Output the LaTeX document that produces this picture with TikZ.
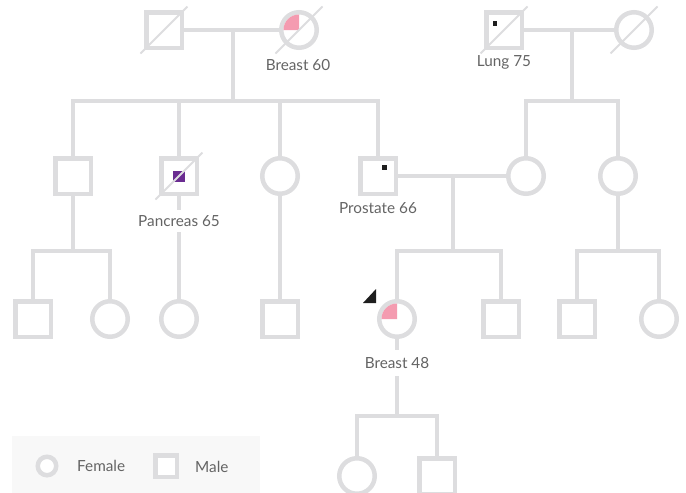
\documentclass[tikz,border=0pt]{standalone}
\usepackage{fontspec}
\setmainfont{Lato}
\definecolor{linec}{RGB}{221,221,223}
\definecolor{textc}{RGB}{100,100,100}
\definecolor{pinkc}{RGB}{244,155,176}
\definecolor{purplec}{RGB}{106,44,145}
\definecolor{markc}{RGB}{30,30,30}
\definecolor{legbg}{RGB}{248,248,248}
\tikzset{
  kin/.style={draw=linec, line width=4.5pt, fill=white, inner sep=0pt},
  male/.style={kin, rectangle, minimum size=35.5pt},
  female/.style={kin, circle, minimum size=35.5pt},
  link/.style={draw=linec, line width=4.5pt},
  dead/.style={draw=linec, line width=1.8pt},
  lbl/.style={text=textc, font=\fontsize{15.3}{17}\selectfont, inner sep=0pt},
  gaplbl/.style={lbl, fill=white, inner xsep=1pt},
}
\begin{document}
\begin{tikzpicture}[x=1pt, y=-1pt]
\useasboundingbox (0,0) rectangle (686,493);

% generation I
\node[male]   (g1a) at (164,30) {};
\node[female] (g1b) at (299,30) {};
\node[male]   (g1c) at (504,30) {};
\node[female] (g1d) at (634,30) {};

% generation II
\node[male]   (g2a) at (73,176) {};
\node[male]   (g2b) at (179,176) {};
\node[female] (g2c) at (280,176) {};
\node[male]   (g2d) at (378,176) {};
\node[female] (g2e) at (526,176) {};
\node[female] (g2f) at (618,176) {};

% generation III
\node[male]   (g3a) at (33,319) {};
\node[female] (g3b) at (110,319) {};
\node[female] (g3c) at (179,319) {};
\node[male]   (g3d) at (280,319) {};
\node[female] (g3e) at (397,319) {};
\node[male]   (g3f) at (501,319) {};
\node[male]   (g3g) at (577,319) {};
\node[female] (g3h) at (659,319) {};

% generation IV
\node[female] (g4a) at (357,476) {};
\node[male]   (g4b) at (437,476) {};

% junction points
\coordinate (m1) at (233,30);
\coordinate (s1) at (233,101);
\coordinate (m2) at (572,30);
\coordinate (s2) at (572,101);
\coordinate (m3) at (453,176);
\coordinate (s3) at (453,251);
\coordinate (s4) at (73,251);
\coordinate (s5) at (618,251);
\coordinate (s6) at (397,416);

% couples and sibships
\draw[link] (g1a) -- (g1b);
\draw[link] (m1) -- (s1);
\draw[link] (g2a.north) |- (s1) -| (g2d.north);
\draw[link] (g2b.north) -- (g2b.north |- s1);
\draw[link] (g2c.north) -- (g2c.north |- s1);

\draw[link] (g1c) -- (g1d);
\draw[link] (m2) -- (s2);
\draw[link] (g2e.north) |- (s2) -| (g2f.north);

\draw[link] (g2d) -- (g2e);
\draw[link] (m3) -- (s3);
\draw[link] (g3e.north) |- (s3) -| (g3f.north);

\draw[link] (g2a.south) -- (s4);
\draw[link] (g3a.north) |- (s4) -| (g3b.north);
\draw[link] (g2b) -- (g3c);
\draw[link] (g2c) -- (g3d);
\draw[link] (g2f.south) -- (s5);
\draw[link] (g3g.north) |- (s5) -| (g3h.north);

\draw[link] (g3e) -- (s6);
\draw[link] (g4a.north) |- (s6) -| (g4b.north);

% affected quadrants (breast cancer)
\fill[pinkc] (g1b.center) -- ++(-15.5,0) arc[start angle=180, end angle=270, radius=15.5] -- cycle;
\fill[pinkc] (g3e.center) -- ++(-15.5,0) arc[start angle=180, end angle=270, radius=15.5] -- cycle;

% pancreas marker
\fill[purplec] ([shift={(-6,-5.5)}]g2b.center) rectangle ([shift={(6,5.5)}]g2b.center);

% small black markers
\fill[markc] ([shift={(-11.2,-8.7)}]g1c.center) rectangle ++(4.3,4.3);
\fill[markc] ([shift={(4.4,-10.7)}]g2d.center) rectangle ++(4.3,4.3);

% proband arrow
\fill[markc] ([shift={(-34,-16)}]g3e.center) -- ([shift={(-21,-16)}]g3e.center) -- ([shift={(-21,-30)}]g3e.center) -- cycle;

% deceased strokes
\foreach \n in {g1a,g1b,g1c,g1d,g2b}
  \draw[dead] ([shift={(-23.5,23.5)}]\n.center) -- ([shift={(23.5,-23.5)}]\n.center);

% labels
\node[lbl] (l1) at (298,65) {Breast 60};
\node[lbl] (l2) at (504,62) {Lung 75};
\node[gaplbl, minimum height=22pt] (l3) at (179,221) {Pancreas 65};
\node[lbl] (l4) at (378,208) {Prostate 66};
\node[gaplbl, minimum height=26pt] (l5) at (397,363) {Breast 48};

% legend
\fill[legbg] (12,436) rectangle (260,493);
\node[kin, circle, minimum size=18.5pt] (kf) at (47,466) {};
\node[lbl, anchor=west] (tf) at (77,466) {Female};
\node[kin, rectangle, minimum size=21.5pt] (km) at (166,466) {};
\node[lbl, anchor=west] (tm) at (195,467) {Male};
\end{tikzpicture}
\end{document}
